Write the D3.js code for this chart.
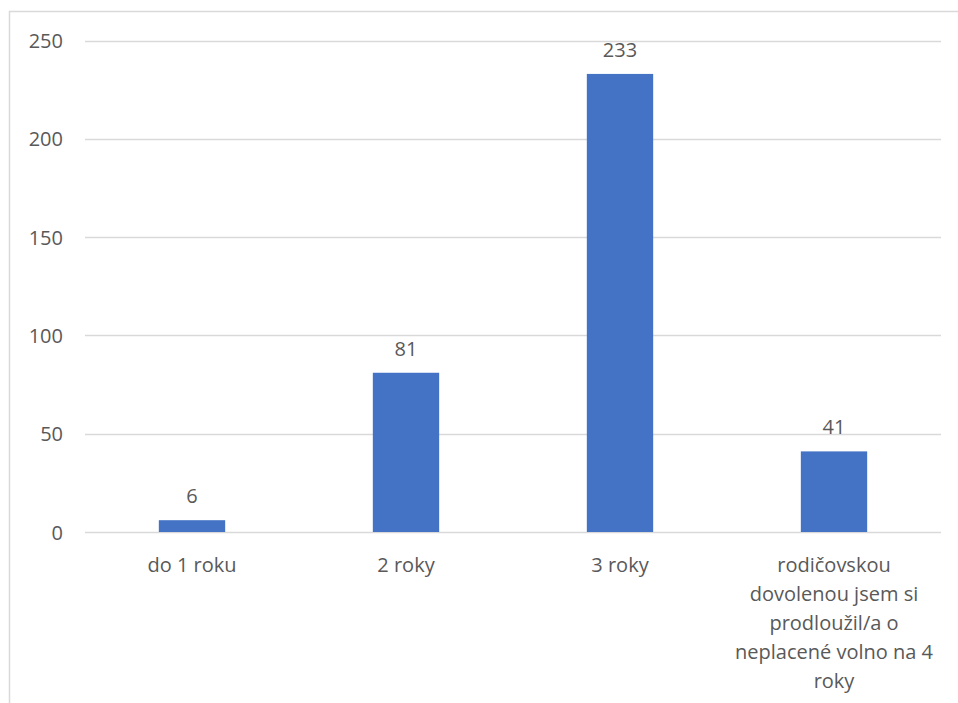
<!DOCTYPE html>
<html>
<head>
<meta charset="utf-8">
<script src="https://cdn.jsdelivr.net/npm/d3@7"></script>
<style>
  html, body { margin: 0; padding: 0; background: #ffffff; }
  svg { display: block; }
  text { font-family: "Open Sans", "Noto Sans", "Liberation Sans", sans-serif; fill: #595959; }
</style>
</head>
<body>
<svg id="chart" width="958" height="703"></svg>
<script>
// Length of parental leave — number of respondents
const categories = [
  "do 1 roku",
  "2 roky",
  "3 roky",
  "rodičovskou dovolenou jsem si prodloužil/a o neplacené volno na 4 roky"
];
const categoryLines = [
  ["do 1 roku"],
  ["2 roky"],
  ["3 roky"],
  ["rodičovskou", "dovolenou jsem si", "prodloužil/a o", "neplacené volno na 4", "roky"]
];
const values = [6, 81, 233, 41];
const yTicks = [0, 50, 100, 150, 200, 250];

const svg = d3.select("#chart");
const FONT = 20;

// chart frame
svg.append("rect")
  .attr("x", 9.5).attr("y", 11.5)
  .attr("width", 960).attr("height", 720)
  .attr("fill", "none").attr("stroke", "#d9d9d9").attr("stroke-width", 1.5);

const plot = { left: 85, right: 941, top: 40.5, bottom: 532 };

const x = d3.scaleBand()
  .domain(categories)
  .range([plot.left, plot.right])
  .paddingInner(0.69)
  .paddingOuter(0.345);

const y = d3.scaleLinear()
  .domain([0, 250])
  .range([plot.bottom, plot.top]);

// gridlines
svg.append("g")
  .selectAll("line")
  .data(yTicks)
  .join("line")
  .attr("x1", plot.left).attr("x2", plot.right)
  .attr("y1", d => Math.round(y(d)) + 0.5)
  .attr("y2", d => Math.round(y(d)) + 0.5)
  .attr("stroke", "#d9d9d9").attr("stroke-width", 1.5);

// y axis labels
const yAxis = d3.axisLeft(y).tickValues(yTicks).tickSize(0).tickPadding(0);
const gy = svg.append("g")
  .attr("transform", `translate(63,0)`)
  .call(yAxis);
gy.select(".domain").remove();
gy.selectAll("text")
  .attr("font-size", FONT)
  .style("font-family", "'Open Sans', 'Noto Sans', sans-serif")
  .attr("fill", "#595959")
  .attr("dy", "0.35em");

// bars
svg.append("g")
  .selectAll("rect")
  .data(values)
  .join("rect")
  .attr("x", (d, i) => x(categories[i]))
  .attr("width", x.bandwidth())
  .attr("y", d => y(d))
  .attr("height", d => y(0) - y(d))
  .attr("fill", "#4472C4");

// value labels
svg.append("g")
  .selectAll("text")
  .data(values)
  .join("text")
  .attr("x", (d, i) => x(categories[i]) + x.bandwidth() / 2)
  .attr("y", d => y(d) - 17)
  .attr("text-anchor", "middle")
  .attr("font-size", FONT)
  .text(d => d);

// category labels
const gx = svg.append("g");
categoryLines.forEach((lines, i) => {
  const cx = x(categories[i]) + x.bandwidth() / 2;
  const t = gx.append("text")
    .attr("text-anchor", "middle")
    .attr("font-size", FONT);
  lines.forEach((ln, j) => {
    t.append("tspan")
      .attr("x", cx)
      .attr("y", 572 + j * 29)
      .text(ln);
  });
});
</script>
</body>
</html>
